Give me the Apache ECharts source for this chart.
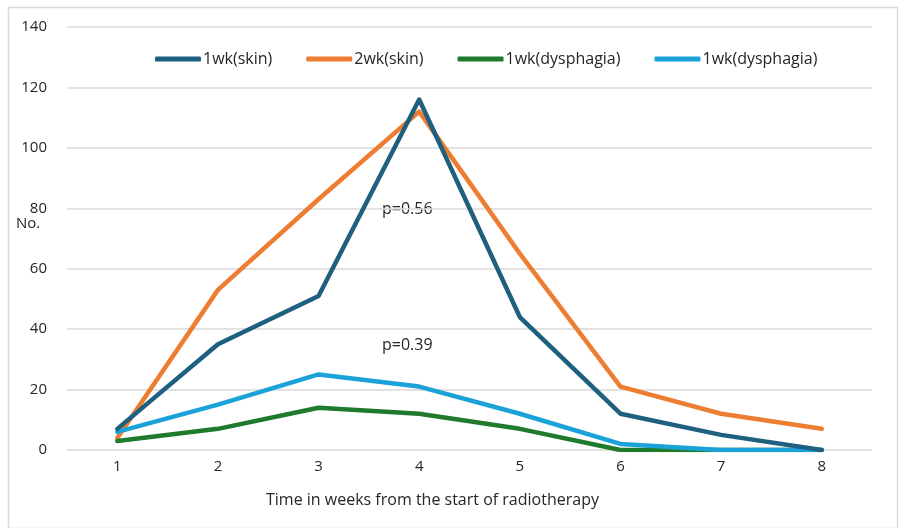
<!DOCTYPE html>
<html>
<head>
<meta charset="utf-8">
<script src="https://cdn.jsdelivr.net/npm/echarts@6/dist/echarts.min.js"></script>
<style>html,body{margin:0;padding:0;background:#fff;}#c{width:899px;height:528px;}</style>
</head>
<body>
<div id="c"></div>
<script>
const categories = ['1','2','3','4','5','6','7','8'];
const skin1wk = [7, 35, 51, 116, 44, 12, 5, 0];
const skin2wk = [4, 53, 83, 112, 65, 21, 12, 7];
const dysphagia1wk = [3, 7, 14, 12, 7, 0, 0, 0];
const dysphagia2wk = [6, 15, 25, 21, 12, 2, 0, 0];
const seriesNames = ['1wk(skin)', '2wk(skin)', '1wk(dysphagia)', '1wk(dysphagia) '];
const yTicks = {min: 0, max: 140, interval: 20};

const FONT = '"Open Sans", "Noto Sans", sans-serif';
const colors = ['#1f5f80', '#ed7d31', '#1f7a2e', '#1ba3d9'];
const dataSets = [skin1wk, skin2wk, dysphagia1wk, dysphagia2wk];
const TXT = '#262626';

const chart = echarts.init(document.getElementById('c'), null, {renderer: 'canvas'});
chart.setOption({
  animation: false,
  color: colors,
  textStyle: {fontFamily: FONT},
  legend: {
    top: 46,
    left: 150,
    icon: 'roundRect',
    itemWidth: 46,
    itemHeight: 5,
    itemGap: 34,
    formatter: function (n) { return n.trim(); },
    textStyle: {fontFamily: FONT, fontSize: 16, color: TXT, padding: [0, 0, 0, -3]},
    data: seriesNames.map(n => ({name: n}))
  },
  grid: {left: 67, right: 27, top: 27, bottom: 78},
  xAxis: {
    type: 'category',
    data: categories,
    boundaryGap: true,
    axisLine: {show: false},
    axisTick: {show: false},
    axisLabel: {fontFamily: FONT, fontSize: 15, color: TXT, margin: 9}
  },
  yAxis: {
    type: 'value',
    min: yTicks.min, max: yTicks.max, interval: yTicks.interval,
    axisLine: {show: false},
    axisTick: {show: false},
    axisLabel: {fontFamily: FONT, fontSize: 15, color: TXT, margin: 20},
    splitLine: {lineStyle: {color: '#d9d9d9', width: 1.5}}
  },
  graphic: [
    {type: 'rect', left: 6, top: 5, shape: {width: 889, height: 521}, style: {fill: 'none', stroke: '#d9d9d9', lineWidth: 1.5}, silent: true},
    {type: 'text', left: 16, top: 216, style: {text: 'No.', font: '15px ' + FONT, fill: TXT}},
    {type: 'text', left: 382, top: 201, style: {text: 'p=0.56', font: '16px ' + FONT, fill: TXT}},
    {type: 'text', left: 382, top: 337, style: {text: 'p=0.39', font: '16px ' + FONT, fill: TXT}},
    {type: 'text', left: 266, top: 492, style: {text: 'Time in weeks from the start of radiotherapy', font: '16px ' + FONT, fill: TXT}}
  ],
  series: dataSets.map((d, i) => ({
    name: seriesNames[i],
    type: 'line',
    data: d,
    symbol: 'none',
    z: i === 0 ? 5 : 3,
    lineStyle: {width: 4.5, color: colors[i], cap: 'round', join: 'round'},
    itemStyle: {color: colors[i]}
  }))
});
</script>
</body>
</html>
